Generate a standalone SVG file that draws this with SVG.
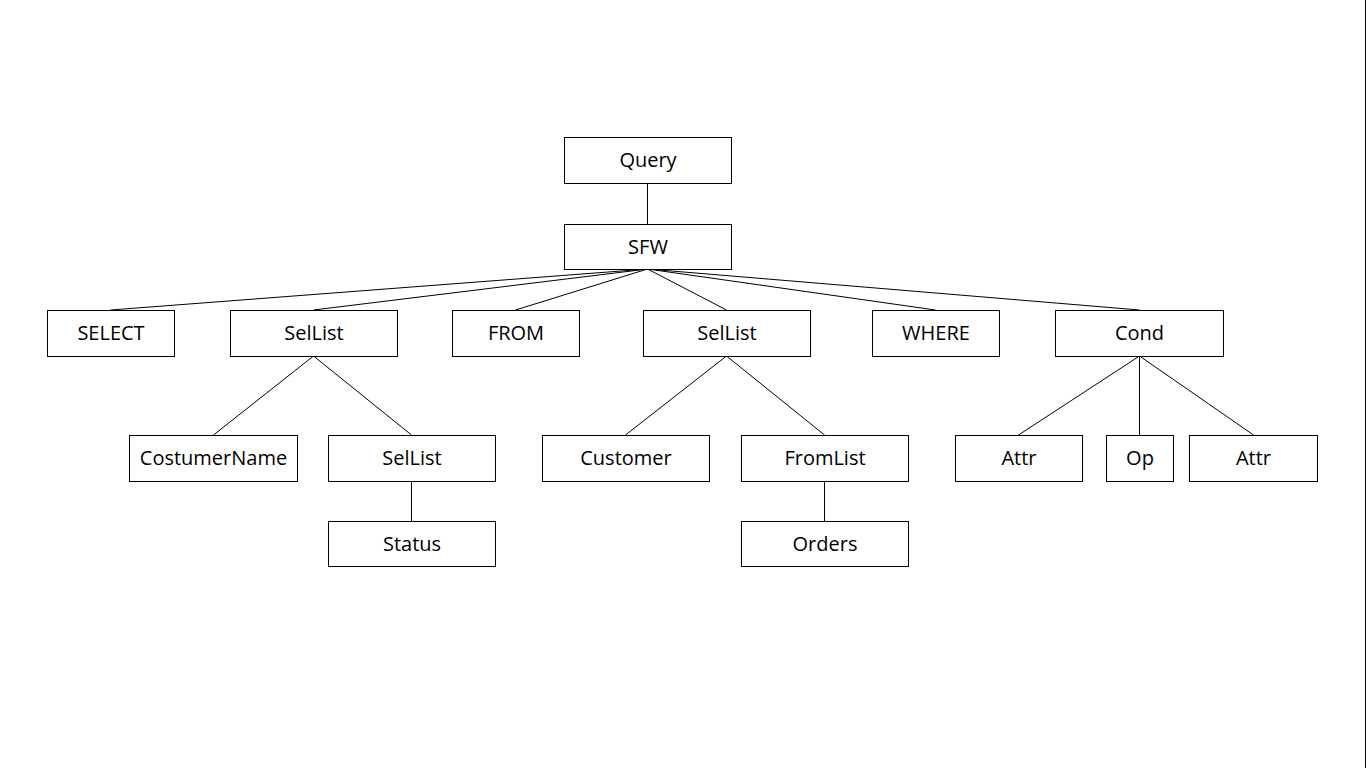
<svg xmlns="http://www.w3.org/2000/svg" width="1366" height="768" viewBox="0 0 1366 768">
<style>
.box{fill:#fff;stroke:#000;stroke-width:1}
.lbl{font-family:"Open Sans","Liberation Sans",sans-serif;font-size:20px;fill:#000;text-anchor:middle}
.edge{stroke:#000;stroke-width:1;fill:none}
</style>
<rect width="1366" height="768" fill="#fff"/>
<line x1="1365.5" y1="0" x2="1365.5" y2="768" stroke="#000" stroke-width="1"/>
<g id="connectors">
<line class="edge" x1="647.5" y1="183" x2="647.5" y2="224"/>
<line class="edge" x1="647.5" y1="269" x2="110.5" y2="310"/>
<line class="edge" x1="647.5" y1="269" x2="313.5" y2="310"/>
<line class="edge" x1="647.5" y1="269" x2="515.5" y2="310"/>
<line class="edge" x1="647.5" y1="269" x2="726.5" y2="310"/>
<line class="edge" x1="647.5" y1="269" x2="935.5" y2="310"/>
<line class="edge" x1="647.5" y1="269" x2="1139.5" y2="310"/>
<line class="edge" x1="313.5" y1="356" x2="213.5" y2="435"/>
<line class="edge" x1="313.5" y1="356" x2="411.5" y2="435"/>
<line class="edge" x1="726.5" y1="356" x2="625.5" y2="435"/>
<line class="edge" x1="726.5" y1="356" x2="824.5" y2="435"/>
<line class="edge" x1="1139.5" y1="356" x2="1018.5" y2="435"/>
<line class="edge" x1="1139.5" y1="356" x2="1139.5" y2="435"/>
<line class="edge" x1="1139.5" y1="356" x2="1253.5" y2="435"/>
<line class="edge" x1="411.5" y1="481" x2="411.5" y2="521"/>
<line class="edge" x1="824.5" y1="481" x2="824.5" y2="521"/>
</g>
<g id="n-query"><rect class="box" x="564.5" y="137.5" width="167" height="46"/><text class="lbl" x="648" y="167">Query</text></g>
<g id="n-sfw"><rect class="box" x="564.5" y="224.5" width="167" height="45"/><text class="lbl" x="648" y="254">SFW</text></g>
<g id="n-select"><rect class="box" x="47.5" y="310.5" width="127" height="46"/><text class="lbl" x="111" y="340">SELECT</text></g>
<g id="n-sellist1"><rect class="box" x="230.5" y="310.5" width="167" height="46"/><text class="lbl" x="314" y="340">SelList</text></g>
<g id="n-from"><rect class="box" x="452.5" y="310.5" width="127" height="46"/><text class="lbl" x="516" y="340">FROM</text></g>
<g id="n-sellist2"><rect class="box" x="643.5" y="310.5" width="167" height="46"/><text class="lbl" x="727" y="340">SelList</text></g>
<g id="n-where"><rect class="box" x="872.5" y="310.5" width="127" height="46"/><text class="lbl" x="936" y="340">WHERE</text></g>
<g id="n-cond"><rect class="box" x="1055.5" y="310.5" width="168" height="46"/><text class="lbl" x="1139.5" y="340">Cond</text></g>
<g id="n-costumername"><rect class="box" x="129.5" y="435.5" width="168" height="46"/><text class="lbl" x="213.5" y="465">CostumerName</text></g>
<g id="n-sellist3"><rect class="box" x="328.5" y="435.5" width="167" height="46"/><text class="lbl" x="412" y="465">SelList</text></g>
<g id="n-customer"><rect class="box" x="542.5" y="435.5" width="167" height="46"/><text class="lbl" x="626" y="465">Customer</text></g>
<g id="n-fromlist"><rect class="box" x="741.5" y="435.5" width="167" height="46"/><text class="lbl" x="825" y="465">FromList</text></g>
<g id="n-attr1"><rect class="box" x="955.5" y="435.5" width="127" height="46"/><text class="lbl" x="1019" y="465">Attr</text></g>
<g id="n-op"><rect class="box" x="1106.5" y="435.5" width="67" height="46"/><text class="lbl" x="1140" y="465">Op</text></g>
<g id="n-attr2"><rect class="box" x="1189.5" y="435.5" width="128" height="46"/><text class="lbl" x="1253.5" y="465">Attr</text></g>
<g id="n-status"><rect class="box" x="328.5" y="521.5" width="167" height="45"/><text class="lbl" x="412" y="551">Status</text></g>
<g id="n-orders"><rect class="box" x="741.5" y="521.5" width="167" height="45"/><text class="lbl" x="825" y="551">Orders</text></g>
</svg>
